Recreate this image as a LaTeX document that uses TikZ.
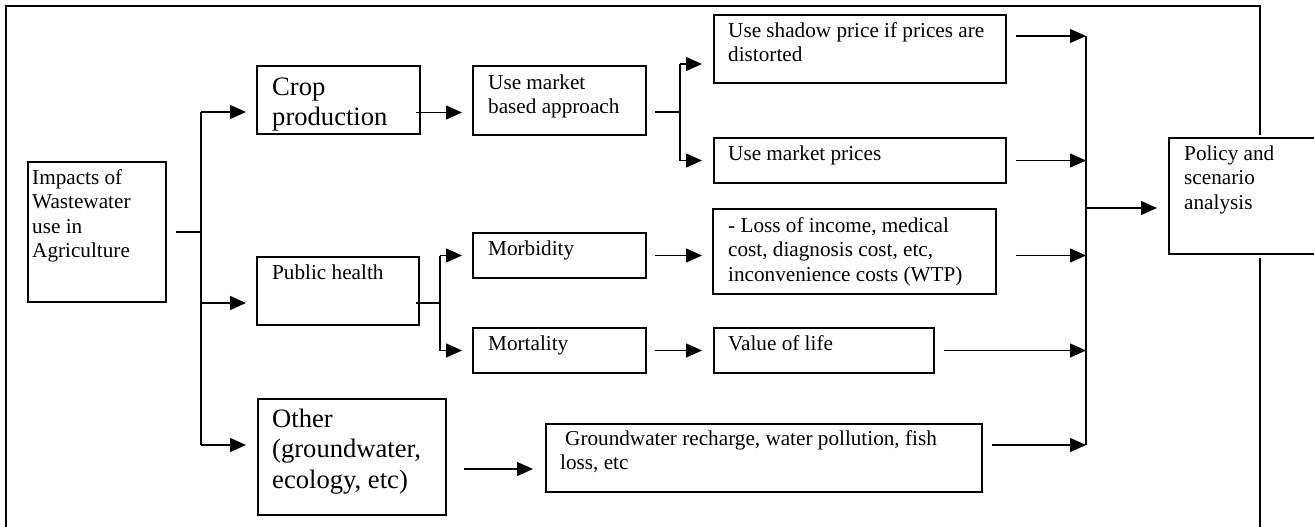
\documentclass[tikz,border=0pt]{standalone}
\usepackage{fontspec}
\setmainfont{Liberation Serif}
\usetikzlibrary{arrows.meta,calc}
\begin{document}
\begin{tikzpicture}[x=1pt,y=-1pt,
  box/.style={draw, line width=2pt, rectangle, inner sep=0pt, anchor=north west},
  sm/.style={font=\fontsize{21.2}{24.5}\selectfont, anchor=north west, inner sep=0pt, align=left},
  lg/.style={font=\fontsize{26.6}{30.5}\selectfont, anchor=north west, inner sep=0pt, align=left},
  conn/.style={line width=1.4pt},
  arr/.style={line width=1.4pt, -{Triangle[length=16pt,width=14pt]}},
  halo/.style={preaction={draw=white, line width=7pt}, fill=white}]
\clip (0,0) rectangle (1314,527);
% outer frame
\draw[line width=2pt] (5.7,540) -- (5.7,5.7) -- (1260,5.7) -- (1260,540);
% boxes
\node[box, minimum width=138, minimum height=140] (imp) at (27,161) {};
\node[box, minimum width=163, minimum height=68] (crop) at (256,65) {};
\node[box, minimum width=173, minimum height=69] (mkt) at (472,65) {};
\node[box, minimum width=292, minimum height=68] (shadow) at (713,14) {};
\node[box, minimum width=292, minimum height=45] (mprice) at (713,137) {};
\node[box, minimum width=162, minimum height=68] (ph) at (256,256) {};
\node[box, minimum width=173, minimum height=45] (morb) at (472,232) {};
\node[box, minimum width=283, minimum height=85] (loss) at (712,208) {};
\node[box, minimum width=173, minimum height=45] (mort) at (472,327) {};
\node[box, minimum width=220, minimum height=45] (value) at (713,327) {};
\node[box, minimum width=188, minimum height=116] (other) at (257,398) {};
\node[box, minimum width=436, minimum height=68] (gw) at (545,423) {};
\node[box, halo, minimum width=152, minimum height=116] (policy) at (1168,137) {};
% texts
\node[sm] (t-imp) at (32,166.85) {\strut Impacts of\\Wastewater\\use in\\Agriculture};
\node[lg] (t-crop) at (272,73.65) {\strut Crop\\production};
\node[sm] (t-mkt) at (488,71.85) {\strut Use market\\based approach};
\node[sm] (t-shadow) at (728,19.85) {\strut Use shadow price if prices are\\distorted};
\node[sm] (t-mprice) at (728,142.85) {\strut Use market prices};
\node[sm] (t-ph) at (272,261.85) {\strut Public health};
\node[sm] (t-morb) at (488,237.85) {\strut Morbidity};
\node[sm] (t-loss) at (728,214.85) {\strut - Loss of income, medical\\cost, diagnosis cost, etc,\\inconvenience costs (WTP)};
\node[sm] (t-mort) at (488,332.85) {\strut Mortality};
\node[sm] (t-value) at (728,332.85) {\strut Value of life};
\node[lg] (t-other) at (272,405.65) {\strut Other\\(groundwater,\\ecology, etc)};
\node[sm] (t-gw) at (560,427.85) {\strut\hspace*{5pt}Groundwater recharge, water pollution, fish\\loss, etc};
\node[sm] (t-policy) at (1184,142.85) {\strut Policy and\\scenario\\analysis};
% left tree
\coordinate (j1) at ([shift={(34,0)}]imp.east);
\coordinate (aCrop) at ([shift={(-10,12)}]crop.west);
\coordinate (aPH) at ([shift={(-10,12)}]ph.west);
\coordinate (aOther) at ([shift={(-11,-12)}]other.west);
\draw[conn] ([shift={(9,0)}]imp.east) -- (j1);
\draw[conn] (j1 |- aCrop) -- (j1 |- aOther);
\draw[arr] (j1 |- aCrop) -- (aCrop);
\draw[arr] (j1 |- aPH) -- (aPH);
\draw[arr] (j1 |- aOther) -- (aOther);
% crop -> market approach
\coordinate (aMkt) at ([shift={(-10,12)}]mkt.west);
\draw[arr] ([shift={(-5,0)}]crop.east |- aMkt) -- (aMkt);
% market approach split
\coordinate (j2) at ([shift={(33,11.5)}]mkt.east);
\coordinate (aShadow) at ([shift={(-11,15)}]shadow.west);
\coordinate (aMprice) at ([shift={(-11,0)}]mprice.west);
\draw[conn] ([shift={(8,11.5)}]mkt.east) -- (j2);
\draw[conn] (j2 |- aShadow) -- (j2 |- aMprice);
\draw[arr] (j2 |- aShadow) -- (aShadow);
\draw[arr] (j2 |- aMprice) -- (aMprice);
% public health split
\coordinate (j3) at ([shift={(20,12)}]ph.east);
\coordinate (aMorb) at ([shift={(-10,0)}]morb.west);
\coordinate (aMort) at ([shift={(-10,0)}]mort.west);
\draw[conn] ([shift={(-4,12)}]ph.east) -- (j3);
\draw[conn] (j3 |- aMorb) -- (j3 |- aMort);
\draw[arr] (j3 |- aMorb) -- (aMorb);
\draw[arr] (j3 |- aMort) -- (aMort);
% second level
\coordinate (aLoss) at ([shift={(-10,0)}]loss.west);
\draw[arr] ([shift={(8,0)}]morb.east) -- (aLoss |- morb.east);
\coordinate (aValue) at ([shift={(-11,0)}]value.west);
\draw[arr] ([shift={(8,0)}]mort.east) -- (aValue);
\coordinate (sOther) at ([shift={(17,12)}]other.east);
\coordinate (aGw) at ([shift={(-12,0)}]gw.west);
\draw[arr] (sOther) -- (sOther -| aGw);
% right trunk
\coordinate (j4) at ([shift={(-82,12)}]policy.west);
\coordinate (sShadow) at ([shift={(9,-13)}]shadow.east);
\coordinate (sMprice) at ([shift={(9,0)}]mprice.east);
\coordinate (sLoss) at ([shift={(19,4)}]loss.east);
\coordinate (sValue) at ([shift={(9,0)}]value.east);
\coordinate (sGw) at ([shift={(9,-13)}]gw.east);
\draw[conn] (j4 |- sShadow) -- (j4 |- sGw);
\draw[arr] (sShadow) -- (sShadow -| j4);
\draw[arr] (sMprice) -- (sMprice -| j4);
\draw[arr] (sLoss) -- (sLoss -| j4);
\draw[arr] (sValue) -- (sValue -| j4);
\draw[arr] (sGw) -- (sGw -| j4);
\draw[arr] (j4) -- ([shift={(-11,12)}]policy.west);
\end{tikzpicture}
\end{document}
